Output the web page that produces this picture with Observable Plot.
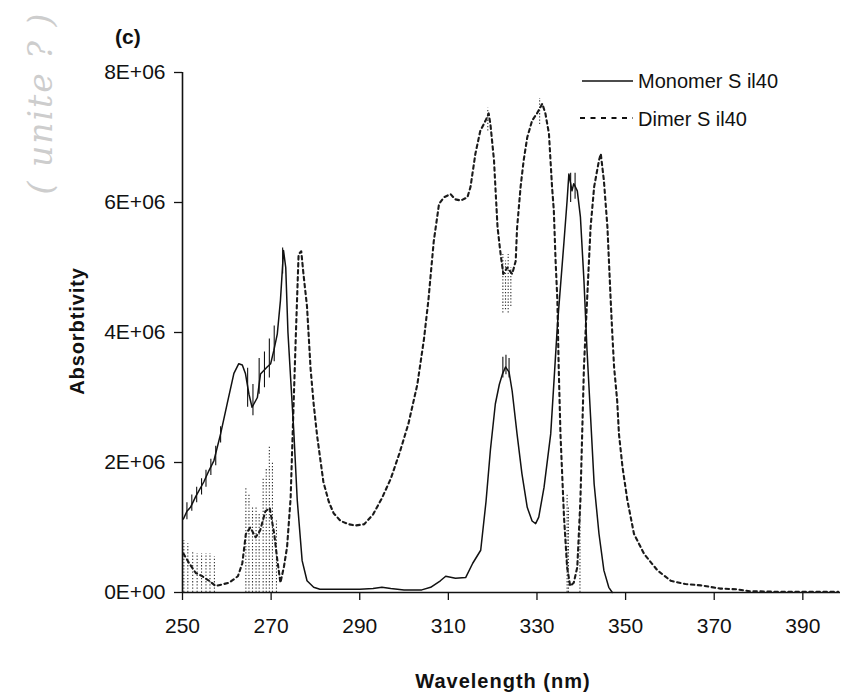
<!DOCTYPE html>
<html>
<head>
<meta charset="utf-8">
<script src="https://cdn.jsdelivr.net/npm/d3@7"></script>
<script src="https://cdn.jsdelivr.net/npm/@observablehq/plot@0.6"></script>
<style>
  html, body { margin: 0; padding: 0; background: #fff; }
  #wrap { position: relative; width: 842px; height: 698px; overflow: hidden; font-family: "Liberation Sans", Arial, sans-serif; color: #111; }
  #wrap > svg { position: absolute; left: 0; top: 0; }
  .ov { position: absolute; white-space: nowrap; color: #111; line-height: 1; }
</style>
</head>
<body>
<div id="wrap"></div>
<script>
// ---- Data (values in units of 1E+06) ----
const xTicks = [250, 270, 290, 310, 330, 350, 370, 390];
const yTicks = [0, 2e6, 4e6, 6e6, 8e6];
const yTickLabels = ["0E+00", "2E+06", "4E+06", "6E+06", "8E+06"];

const seriesNames = ["Monomer S il40", "Dimer S il40"];

const monomerWl = [250.2, 251.0, 251.8, 253.0, 254.8, 256.0, 257.1, 258.6, 260.1, 261.6, 262.7, 263.5, 264.2, 265.0, 265.7, 266.9, 267.6, 269.1, 269.9, 270.6, 271.4, 272.1, 272.8, 273.3, 273.8, 274.4, 275.1, 275.9, 277.0, 278.1, 279.6, 281, 285, 290, 293, 295, 297, 300, 304, 306, 308.2, 309.4, 311.6, 313.9, 315.5, 317.3, 318.5, 319.5, 320.6, 321.5, 322.2, 322.9, 323.7, 324.4, 325.5, 326.6, 327.8, 328.9, 329.7, 330.4, 331.6, 333.1, 333.8, 334.6, 336.1, 336.8, 337.2, 337.9, 338.3, 339.1, 339.8, 340.6, 341.3, 342.1, 342.9, 344.0, 345.1, 346.2, 347.0];
const monomerVal = [1.13, 1.25, 1.31, 1.48, 1.70, 1.88, 2.03, 2.44, 2.91, 3.37, 3.52, 3.50, 3.37, 3.05, 2.85, 3.00, 3.36, 3.47, 3.52, 3.72, 3.98, 4.49, 5.26, 5.00, 4.00, 3.30, 2.50, 1.42, 0.49, 0.18, 0.08, 0.05, 0.05, 0.05, 0.06, 0.08, 0.06, 0.04, 0.04, 0.08, 0.18, 0.25, 0.22, 0.23, 0.45, 0.65, 1.40, 2.20, 2.90, 3.20, 3.36, 3.47, 3.39, 3.10, 2.44, 1.83, 1.31, 1.10, 1.06, 1.16, 1.62, 2.44, 3.21, 4.10, 5.40, 6.03, 6.44, 6.18, 6.29, 6.18, 5.78, 4.80, 3.72, 2.70, 1.67, 0.90, 0.34, 0.08, 0.00];

const dimerWl = [250.2, 251.5, 253.0, 254.5, 256.0, 257.5, 260.5, 262.5, 263.5, 264.3, 265.3, 266.5, 267.5, 268.7, 269.7, 270.7, 271.4, 272.1, 272.9, 273.6, 274.4, 275.1, 275.6, 276.2, 276.8, 277.3, 278.1, 278.9, 279.6, 280.4, 281.8, 283.0, 284.1, 285.7, 287.5, 289, 291, 293, 295, 297, 299, 301, 303, 304.5, 305.5, 306.7, 307.9, 309.0, 310.5, 311.5, 312.8, 314.3, 315.0, 316.1, 317.2, 318.4, 319.1, 319.5, 320.3, 320.7, 321.1, 321.8, 322.4, 323.3, 324.4, 325.2, 325.5, 326.3, 327.0, 327.8, 328.9, 330.0, 331.2, 331.9, 332.7, 333.4, 333.8, 334.2, 334.6, 334.9, 335.3, 336.1, 336.8, 337.5, 338.3, 339.1, 339.8, 340.2, 340.6, 341.3, 342.1, 342.9, 344.0, 344.4, 345.1, 345.9, 346.6, 347.0, 347.4, 348.1, 348.5, 349.3, 350.4, 351.9, 354.2, 357.2, 360.2, 363.5, 367.0, 371.4, 375.0, 378, 385, 398];
const dimerVal = [0.60, 0.45, 0.30, 0.25, 0.18, 0.10, 0.15, 0.25, 0.45, 0.90, 1.00, 0.85, 0.95, 1.25, 1.30, 0.90, 0.50, 0.15, 0.40, 0.70, 1.45, 2.95, 4.00, 5.20, 5.25, 4.90, 4.40, 3.45, 2.90, 2.40, 1.70, 1.40, 1.22, 1.10, 1.05, 1.03, 1.05, 1.20, 1.45, 1.75, 2.15, 2.60, 3.20, 3.90, 4.50, 5.40, 5.98, 6.08, 6.13, 6.05, 6.03, 6.08, 6.24, 6.75, 7.10, 7.26, 7.37, 7.20, 6.65, 6.13, 5.62, 5.20, 4.90, 5.00, 4.90, 5.10, 5.60, 6.24, 6.65, 7.00, 7.26, 7.37, 7.52, 7.37, 7.06, 6.24, 5.88, 5.10, 4.50, 3.47, 2.44, 1.16, 0.39, 0.10, 0.15, 0.39, 1.42, 2.44, 3.47, 4.49, 5.62, 6.24, 6.65, 6.75, 6.34, 5.62, 4.55, 3.98, 3.47, 2.95, 2.44, 1.93, 1.42, 0.90, 0.59, 0.34, 0.18, 0.13, 0.11, 0.06, 0.05, 0.02, 0.01, 0.01];

// short vertical noise strokes on the monomer trace
const monoNoiseWl = [251.0, 252.1, 253.2, 254.3, 255.3, 256.4, 257.5, 258.6, 264.7, 265.9, 267.3, 268.5, 269.6, 270.7, 272.6, 322.3, 323.0, 323.7, 337.6, 338.6];
const monoNoiseLo = [1.12, 1.25, 1.38, 1.50, 1.62, 1.80, 1.95, 2.30, 2.85, 2.72, 3.05, 3.15, 3.30, 3.55, 4.90, 3.30, 3.35, 3.30, 6.00, 6.05];
const monoNoiseHi = [1.38, 1.50, 1.62, 1.75, 1.88, 2.05, 2.25, 2.55, 3.45, 3.20, 3.60, 3.70, 3.90, 4.10, 5.30, 3.62, 3.65, 3.60, 6.45, 6.45];

// fine dotted spikes on the dimer trace
const dimerSpikeWl = [250.3, 251.2, 252.3, 253.3, 254.3, 255.3, 256.2, 257.2, 264.3, 265.0, 265.8, 266.6, 267.3, 268.2, 268.9, 269.6, 270.3, 271.2, 322.3, 322.9, 323.5, 324.1, 336.8, 337.1, 339.7, 318.9, 330.6];
const dimerSpikeLo = [0.00, 0.00, 0.00, 0.00, 0.00, 0.00, 0.00, 0.00, 0.00, 0.00, 0.00, 0.00, 0.00, 0.00, 0.00, 0.00, 0.00, 0.00, 4.30, 4.35, 4.30, 4.40, 0.00, 0.00, 0.00, 7.10, 7.20];
const dimerSpikeHi = [0.80, 0.75, 0.62, 0.60, 0.60, 0.60, 0.60, 0.55, 1.60, 1.50, 1.30, 1.30, 1.20, 1.75, 1.90, 2.25, 2.00, 1.10, 5.20, 5.10, 5.20, 5.00, 1.50, 1.30, 1.30, 7.45, 7.60];

// ---- tables for Plot ----
const E6 = 1e6;
const monomer = monomerWl.map((w, i) => ({wl: w, v: monomerVal[i] * E6}));
const dimer = dimerWl.map((w, i) => ({wl: w, v: dimerVal[i] * E6}));
const monoNoise = monoNoiseWl.map((w, i) => ({wl: w, lo: monoNoiseLo[i] * E6, hi: monoNoiseHi[i] * E6}));
const dimerSpikes = dimerSpikeWl.map((w, i) => ({wl: w, lo: dimerSpikeLo[i] * E6, hi: dimerSpikeHi[i] * E6}));

const ink = "#111";
const chart = Plot.plot({
  width: 842,
  height: 698,
  marginLeft: 182,
  marginRight: 2,
  marginTop: 72,
  marginBottom: 106,
  x: {domain: [250, 398.5]},
  y: {domain: [0, 8e6]},
  style: {fontFamily: "'Liberation Sans', Arial, sans-serif", color: ink, background: "transparent", overflow: "visible"},
  marks: [
    Plot.axisX({ticks: xTicks, tickSize: 8, tickPadding: 18, fontSize: 21, label: null, stroke: ink, strokeWidth: 1.3, tickFormat: d => String(d)}),
    Plot.axisY({ticks: yTicks, tickSize: 8, tickPadding: 9, fontSize: 21, label: null, stroke: ink, strokeWidth: 1.3, tickFormat: d => yTickLabels[yTicks.indexOf(d)]}),
    Plot.ruleY([0], {stroke: ink, strokeWidth: 1.6}),
    Plot.ruleX([250], {stroke: ink, strokeWidth: 1.6}),
    Plot.ruleX(dimerSpikes, {x: "wl", y1: "lo", y2: "hi", stroke: "#333", strokeWidth: 1.1, strokeDasharray: "1.3,1.9"}),
    Plot.line(dimer, {x: "wl", y: "v", stroke: "#1a1a1a", strokeWidth: 2.1, strokeDasharray: "3.5,3.5"}),
    Plot.ruleX(monoNoise, {x: "wl", y1: "lo", y2: "hi", stroke: ink, strokeWidth: 1.1}),
    Plot.line(monomer, {x: "wl", y: "v", stroke: ink, strokeWidth: 1.5})
  ]
});

const wrap = document.getElementById("wrap");
wrap.appendChild(chart);

function addText(txt, css) {
  const d = document.createElement("div");
  d.className = "ov";
  d.textContent = txt;
  Object.assign(d.style, css);
  wrap.appendChild(d);
  return d;
}

// handwritten pencil note
addText("( unite ? )", {left: "40px", top: "103px", transform: "translate(-50%,-50%) rotate(-90deg)", fontFamily: "'DejaVu Serif', serif", fontStyle: "italic", fontSize: "33px", color: "#cdcdcd", fontWeight: "300", letterSpacing: "2px"});

// panel tag
addText("(c)", {left: "115px", top: "26px", fontSize: "21px", fontWeight: "bold"});

// axis titles
addText("Absorbtivity", {left: "77px", top: "331px", transform: "translate(-50%,-50%) rotate(-90deg)", fontSize: "20px", fontWeight: "bold", letterSpacing: "0.9px"});
addText("Wavelength (nm)", {left: "503px", top: "681px", transform: "translate(-50%,-50%)", fontSize: "20px", fontWeight: "bold", letterSpacing: "1px"});

// legend
const ns = "http://www.w3.org/2000/svg";
const leg = document.createElementNS(ns, "svg");
leg.setAttribute("width", 842); leg.setAttribute("height", 698);
leg.style.position = "absolute"; leg.style.left = "0"; leg.style.top = "0"; leg.style.pointerEvents = "none";
const legendRows = [
  {name: seriesNames[0], dash: null, width: 1.5, x1: 582, x2: 633, y: 81, ty: 83},
  {name: seriesNames[1], dash: "5,5.5", width: 2.1, x1: 580, x2: 633, y: 118, ty: 121}
];
legendRows.forEach(r => {
  const l = document.createElementNS(ns, "line");
  l.setAttribute("x1", r.x1); l.setAttribute("x2", r.x2);
  l.setAttribute("y1", r.y); l.setAttribute("y2", r.y);
  l.setAttribute("stroke", ink); l.setAttribute("stroke-width", r.width);
  if (r.dash) l.setAttribute("stroke-dasharray", r.dash);
  leg.appendChild(l);
  const t = document.createElementNS(ns, "text");
  t.setAttribute("x", 638); t.setAttribute("y", r.ty);
  t.setAttribute("dominant-baseline", "middle");
  t.setAttribute("font-family", "'Liberation Sans', Arial, sans-serif");
  t.setAttribute("font-size", "20");
  t.setAttribute("fill", ink);
  t.textContent = r.name;
  leg.appendChild(t);
});
wrap.appendChild(leg);
</script>
</body>
</html>
